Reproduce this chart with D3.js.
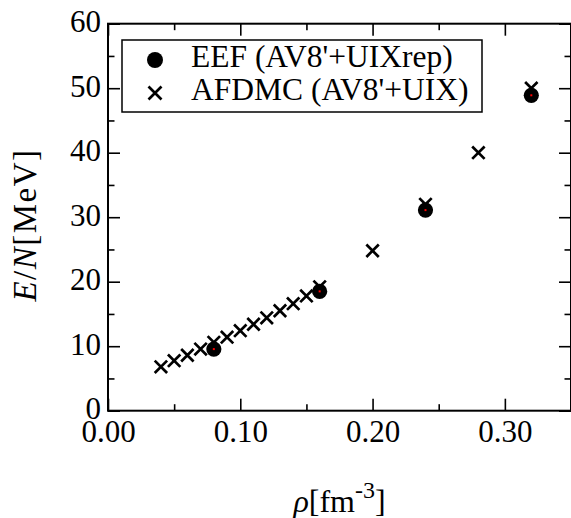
<!DOCTYPE html>
<html>
<head>
<meta charset="utf-8">
<script src="https://cdn.jsdelivr.net/npm/d3@7"></script>
<style>
  html, body { margin: 0; padding: 0; background: #fff; }
  svg { display: block; }
</style>
</head>
<body>
<svg id="chart" width="571" height="518"></svg>
<script>
// Energy per nucleon of neutron matter vs density
const afdmcDensity = [0.04, 0.05, 0.06, 0.07, 0.08, 0.09, 0.10, 0.11, 0.12, 0.13, 0.14, 0.15, 0.16, 0.20, 0.24, 0.28, 0.32];
const afdmcEnergy  = [6.8, 7.75, 8.6, 9.55, 10.6, 11.4, 12.4, 13.4, 14.4, 15.5, 16.6, 17.8, 19.2, 24.8, 32.0, 40.0, 50.0];
const eefDensity = [0.08, 0.16, 0.24, 0.32];
const eefEnergy  = [9.55, 18.5, 31.1, 48.9];
const xTicks = [0.00, 0.10, 0.20, 0.30];
const xMinorTicks = [0.05, 0.15, 0.25, 0.35];
const yTicks = [0, 10, 20, 30, 40, 50, 60];
const yMinorTicks = [5, 15, 25, 35, 45, 55];
const legendLabels = ["EEF (AV8'+UIXrep)", "AFDMC (AV8'+UIX)"];

const FONT = '"Times New Roman", Times, Tinos, serif';
const svg = d3.select("#chart");
const plot = { left: 108, right: 571, top: 23.7, bottom: 410.7 };

const x = d3.scaleLinear().domain([0, 0.35]).range([plot.left, plot.right]);
const y = d3.scaleLinear().domain([0, 60]).range([plot.bottom, plot.top]);

const major = 12, minor = 6.5, tickFont = 31;

function styleAxis(g) {
  g.attr("font-family", null).style("font-family", FONT);
  g.select(".domain").remove();
  g.selectAll(".tick line").attr("stroke", "#000").attr("stroke-width", 1.6);
  g.selectAll(".tick text").attr("fill", "#000").attr("font-size", tickFont)
    .style("font-family", FONT);
}

// bottom axis with labels
svg.append("g").attr("transform", `translate(0,${plot.bottom})`)
  .call(d3.axisBottom(x).tickValues(xTicks).tickFormat(d3.format(".2f"))
    .tickSizeInner(-major).tickSizeOuter(0).tickPadding(9))
  .call(styleAxis);
svg.append("g").attr("transform", `translate(0,${plot.bottom})`)
  .call(d3.axisBottom(x).tickValues(xMinorTicks).tickFormat("").tickSizeInner(-minor).tickSizeOuter(0))
  .call(styleAxis);
// top axis
svg.append("g").attr("transform", `translate(0,${plot.top})`)
  .call(d3.axisTop(x).tickValues(xTicks).tickFormat("").tickSizeInner(-major).tickSizeOuter(0))
  .call(styleAxis);
svg.append("g").attr("transform", `translate(0,${plot.top})`)
  .call(d3.axisTop(x).tickValues(xMinorTicks).tickFormat("").tickSizeInner(-minor).tickSizeOuter(0))
  .call(styleAxis);
// left axis with labels
svg.append("g").attr("transform", `translate(${plot.left},0)`)
  .call(d3.axisLeft(y).tickValues(yTicks).tickFormat(d3.format("d"))
    .tickSizeInner(-major).tickSizeOuter(0).tickPadding(7))
  .call(styleAxis)
  .selectAll(".tick text").attr("dy", "0.26em");
svg.append("g").attr("transform", `translate(${plot.left},0)`)
  .call(d3.axisLeft(y).tickValues(yMinorTicks).tickFormat("").tickSizeInner(-minor).tickSizeOuter(0))
  .call(styleAxis);
// right axis
svg.append("g").attr("transform", `translate(${plot.right},0)`)
  .call(d3.axisRight(y).tickValues(yTicks).tickFormat("").tickSizeInner(-major).tickSizeOuter(0))
  .call(styleAxis);
svg.append("g").attr("transform", `translate(${plot.right},0)`)
  .call(d3.axisRight(y).tickValues(yMinorTicks).tickFormat("").tickSizeInner(-minor).tickSizeOuter(0))
  .call(styleAxis);

// frame
svg.append("rect")
  .attr("x", plot.left).attr("y", plot.top)
  .attr("width", plot.right - plot.left).attr("height", plot.bottom - plot.top)
  .attr("fill", "none").attr("stroke", "#000").attr("stroke-width", 2);

// AFDMC crosses
const cs = 6.2;
function crossPath(cx, cy, s) {
  return `M${cx - s},${cy - s}L${cx + s},${cy + s}M${cx - s},${cy + s}L${cx + s},${cy - s}`;
}
svg.append("g").selectAll("path")
  .data(afdmcDensity.map((d, i) => [d, afdmcEnergy[i]]))
  .join("path")
  .attr("d", d => crossPath(x(d[0]), y(d[1]), cs))
  .attr("stroke", "#000").attr("stroke-width", 2.7).attr("fill", "none");

// EEF filled circles with a red centre dot
const eef = eefDensity.map((d, i) => [d, eefEnergy[i]]);
svg.append("g").selectAll("circle")
  .data(eef).join("circle")
  .attr("cx", d => x(d[0])).attr("cy", d => y(d[1])).attr("r", 7.6)
  .attr("fill", "#000");
svg.append("g").selectAll("rect")
  .data(eef).join("rect")
  .attr("x", d => x(d[0]) - 1).attr("y", d => y(d[1]) - 1)
  .attr("width", 2).attr("height", 2).attr("fill", "#f00");

// legend
const lg = svg.append("g");
lg.append("rect").attr("x", 122).attr("y", 40).attr("width", 360).attr("height", 72)
  .attr("fill", "#fff").attr("stroke", "#000").attr("stroke-width", 1.5);
lg.append("circle").attr("cx", 155).attr("cy", 60).attr("r", 8).attr("fill", "#000");
lg.append("path").attr("d", crossPath(155, 93, 6.5))
  .attr("stroke", "#000").attr("stroke-width", 2.7).attr("fill", "none");
lg.selectAll("text").data(legendLabels).join("text")
  .attr("x", 191).attr("y", (d, i) => 67 + i * 32.7)
  .attr("font-size", 31.5).attr("fill", "#000").style("font-family", FONT)
  .text(d => d);

// axis titles
const xt = svg.append("text")
  .attr("x", (plot.left + plot.right) / 2).attr("y", 511.5)
  .attr("text-anchor", "middle").attr("font-size", 32).attr("fill", "#000")
  .style("font-family", FONT);
xt.append("tspan").attr("font-style", "italic").text("ρ");
xt.append("tspan").text("[fm");
xt.append("tspan").attr("font-size", 24).attr("dy", -13.6).text("-3");
xt.append("tspan").attr("dy", 13.6).text("]");

const yt = svg.append("text")
  .attr("transform", "translate(35.5,225) rotate(-90)")
  .attr("text-anchor", "middle").attr("font-size", 33).attr("fill", "#000")
  .attr("letter-spacing", 1.5)
  .style("font-family", FONT);
yt.append("tspan").attr("font-style", "italic").text("E");
yt.append("tspan").text("/");
yt.append("tspan").attr("font-style", "italic").text("N");
yt.append("tspan").text("[MeV]");
</script>
</body>
</html>
